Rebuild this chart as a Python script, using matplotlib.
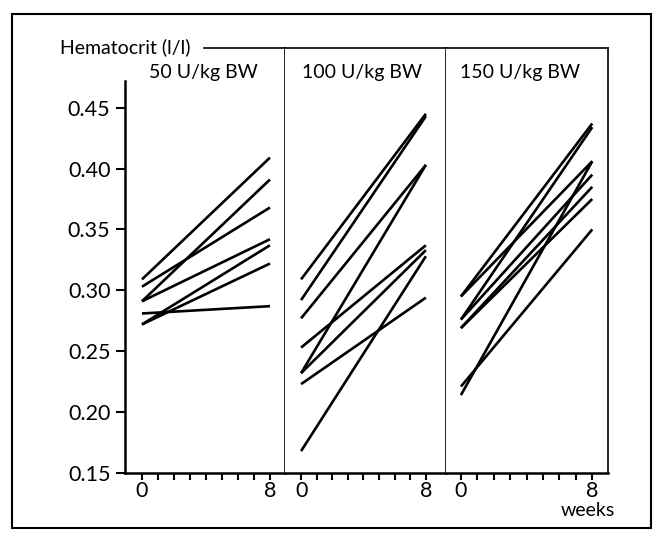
import matplotlib
matplotlib.use('Agg')
import matplotlib.pyplot as plt
from matplotlib.patches import Rectangle

plt.rcParams['font.family'] = ['Lato', 'DejaVu Sans']

weeks = [0, 8]
doses = ['50 U/kg BW', '100 U/kg BW', '150 U/kg BW']

# hematocrit (l/l) at week 0 and week 8, one pair per animal
start_50 = [0.309, 0.303, 0.291, 0.291, 0.281, 0.272, 0.272]
end_50 = [0.409, 0.368, 0.391, 0.342, 0.287, 0.337, 0.322]

start_100 = [0.309, 0.292, 0.277, 0.253, 0.232, 0.232, 0.223, 0.168]
end_100 = [0.445, 0.443, 0.403, 0.337, 0.403, 0.333, 0.294, 0.328]

start_150 = [0.295, 0.295, 0.276, 0.276, 0.269, 0.269, 0.221, 0.214]
end_150 = [0.437, 0.406, 0.434, 0.395, 0.385, 0.375, 0.350, 0.406]

starts = [start_50, start_100, start_150]
ends = [end_50, end_100, end_150]

W, H = 658, 536
fig = plt.figure(figsize=(W / 100, H / 100), dpi=100)

# panel edges in pixels and x range in weeks
panel_px = [(125, 285), (285, 446), (446, 608)]
xlims = [(-1.06, 8.94), (-1.03, 9.29), (-0.91, 8.96)]
title_x = [0.49, 0.48, 0.46]
top_px, bot_px = 48, 473

axes = []
for i, (x0, x1) in enumerate(panel_px):
    ax = fig.add_axes([x0 / W, (H - bot_px) / H, (x1 - x0) / W, (bot_px - top_px) / H])
    for s, e in zip(starts[i], ends[i]):
        ax.plot(weeks, [s, e], color='black', linewidth=1.9, solid_capstyle='butt')
    ax.set_xlim(*xlims[i])
    ax.set_ylim(0.15, 0.499)
    ax.set_xticks(range(0, 9))
    ax.set_xticklabels(['0', '', '', '', '', '', '', '', '8'])
    ax.tick_params(axis='x', direction='out', length=5, width=1.5, labelsize=15.5, pad=1)
    for sp in ax.spines.values():
        sp.set_linewidth(1.2)
    ax.spines['bottom'].set_linewidth(1.8)
    ax.text(title_x[i], 0.943, doses[i], transform=ax.transAxes,
            ha='center', va='center', fontsize=14)
    if i > 0:
        ax.spines['left'].set_visible(False)
        ax.set_yticks([])
    axes.append(ax)

ax1 = axes[0]
ax1.set_yticks([0.15, 0.20, 0.25, 0.30, 0.35, 0.40, 0.45])
ax1.set_yticklabels(['0.15', '0.20', '0.25', '0.30', '0.35', '0.40', '0.45'])
ax1.tick_params(axis='y', direction='out', length=6.5, width=1.5, labelsize=15.5, pad=4)
ax1.spines['left'].set_bounds(0.15, 0.472)
ax1.spines['left'].set_linewidth(1.8)
ax1.spines['top'].set_bounds(3.9, 8.94)

fig.text(60 / W, 1 - 47 / H, 'Hematocrit (l/l)', ha='left', va='center', fontsize=14)
fig.text(588 / W, 1 - 511 / H, 'weeks', ha='center', va='center', fontsize=14)

# outer frame round the whole figure
fig.patches.append(Rectangle((12 / W, 1 - 528 / H), (651 - 12) / W, (528 - 14) / H,
                             transform=fig.transFigure, fill=False, edgecolor='black', linewidth=1.5))

fig.savefig('out.png', dpi=100)
